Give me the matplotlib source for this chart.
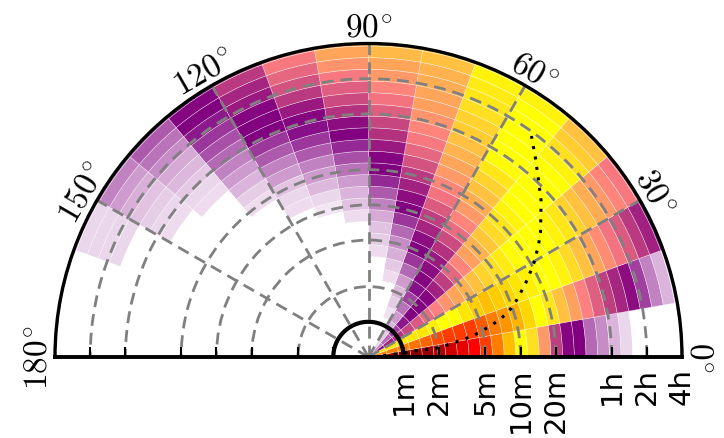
import numpy as np
import matplotlib
matplotlib.use("Agg")
import matplotlib.pyplot as plt
from matplotlib.colors import LinearSegmentedColormap, Normalize
from matplotlib.transforms import offset_copy

plt.rcParams['mathtext.fontset'] = 'cm'

# --- data -------------------------------------------------------------
# angular bins (degrees, lower edges) and one list of cell values per bin,
# ordered from the innermost duration ring outwards (28 rings)
dir_bins_deg = [0, 10, 20, 30, 40, 50, 60, 70, 80, 90, 100, 110, 120, 130, 140, 150, 160, 170]

dir_000 = [1.0, 1.0, 1.0, 1.0, 1.0, 0.97, 0.93, 0.88, 0.84, 0.8, 0.75, 0.7, 0.65, 0.6,
           0.55, 0.44, 0.3, 0.21, 0.2, 0.12, 0.09, 0.06, 0.035, 0, 0, 0, 0, 0]
dir_010 = [0.7, 0.7, 0.7, 0.7, 0.71, 0.72, 0.74, 0.75, 0.75, 0.75, 0.73, 0.7, 0.68, 0.66,
           0.63, 0.6, 0.56, 0.5, 0.45, 0.4, 0.35, 0.3, 0.26, 0.22, 0.15, 0.1, 0.06, 0.035]
dir_020 = [0.62, 0.62, 0.62, 0.62, 0.62, 0.62, 0.61, 0.6, 0.6, 0.62, 0.64, 0.65, 0.64, 0.63,
           0.62, 0.61, 0.6, 0.6, 0.58, 0.54, 0.5, 0.46, 0.42, 0.38, 0.34, 0.29, 0.25, 0.22]
dir_030 = [0.2, 0.22, 0.25, 0.28, 0.31, 0.34, 0.37, 0.4, 0.43, 0.46, 0.48, 0.5, 0.53, 0.55,
           0.57, 0.59, 0.6, 0.6, 0.6, 0.58, 0.56, 0.53, 0.5, 0.47, 0.44, 0.41, 0.39, 0.37]
dir_040 = [0.08, 0.1, 0.12, 0.15, 0.18, 0.2, 0.2, 0.21, 0.25, 0.3, 0.36, 0.41, 0.45, 0.48,
           0.51, 0.54, 0.56, 0.58, 0.6, 0.6, 0.6, 0.6, 0.6, 0.58, 0.55, 0.52, 0.5, 0.48]
dir_050 = [0.03, 0.035, 0.045, 0.06, 0.08, 0.11, 0.15, 0.19, 0.21, 0.22, 0.24, 0.28, 0.32, 0.37,
           0.41, 0.44, 0.47, 0.5, 0.53, 0.56, 0.59, 0.6, 0.6, 0.6, 0.6, 0.6, 0.58, 0.57]
dir_060 = [0, 0, 0, 0, 0.025, 0.04, 0.055, 0.08, 0.12, 0.16, 0.2, 0.22, 0.26, 0.3,
           0.34, 0.38, 0.41, 0.44, 0.46, 0.48, 0.5, 0.52, 0.53, 0.55, 0.56, 0.57, 0.58, 0.58]
dir_070 = [0, 0, 0, 0, 0, 0, 0, 0.03, 0.045, 0.065, 0.09, 0.12, 0.16, 0.2,
           0.22, 0.25, 0.29, 0.33, 0.36, 0.39, 0.41, 0.43, 0.45, 0.46, 0.47, 0.48, 0.5, 0.52]
dir_080 = [0, 0, 0, 0, 0, 0, 0, 0, 0, 0.03, 0.04, 0.05, 0.07, 0.1,
           0.13, 0.17, 0.2, 0.21, 0.24, 0.28, 0.31, 0.35, 0.38, 0.41, 0.44, 0.46, 0.49, 0.5]
dir_090 = [0, 0, 0, 0, 0, 0, 0, 0, 0, 0, 0, 0, 0.03, 0.05,
           0.06, 0.08, 0.11, 0.14, 0.17, 0.2, 0.22, 0.28, 0.32, 0.35, 0.39, 0.43, 0.46, 0.47]
dir_100 = [0, 0, 0, 0, 0, 0, 0, 0, 0, 0, 0, 0, 0, 0.02,
           0.035, 0.055, 0.08, 0.1, 0.13, 0.16, 0.19, 0.21, 0.24, 0.29, 0.33, 0.36, 0.39, 0.4]
dir_110 = [0, 0, 0, 0, 0, 0, 0, 0, 0, 0, 0, 0, 0, 0,
           0.03, 0.035, 0.05, 0.08, 0.1, 0.13, 0.16, 0.2, 0.2, 0.21, 0.24, 0.26, 0.29, 0.3]
dir_120 = [0, 0, 0, 0, 0, 0, 0, 0, 0, 0, 0, 0, 0, 0,
           0, 0, 0.03, 0.04, 0.06, 0.08, 0.1, 0.12, 0.14, 0.16, 0.18, 0.2, 0.21, 0.2]
dir_130 = [0, 0, 0, 0, 0, 0, 0, 0, 0, 0, 0, 0, 0, 0,
           0, 0, 0, 0, 0, 0.03, 0.035, 0.045, 0.055, 0.07, 0.09, 0.11, 0.13, 0.15]
dir_140 = [0, 0, 0, 0, 0, 0, 0, 0, 0, 0, 0, 0, 0, 0,
           0, 0, 0, 0, 0, 0, 0.03, 0.035, 0.04, 0.05, 0.065, 0.08, 0.1, 0.11]
dir_150 = [0, 0, 0, 0, 0, 0, 0, 0, 0, 0, 0, 0, 0, 0,
           0, 0, 0, 0, 0, 0, 0, 0, 0, 0.035, 0.035, 0.035, 0.035, 0.04]
dir_160 = [0] * 28
dir_170 = [0] * 28

# reference curve: direction (deg) against duration (minutes)
curve_deg = [5.0, 6.7, 7.6, 7.5, 6.9, 8.4, 9.6, 10.6, 11.8, 13.3, 14.8, 16.3, 18.4, 20.6,
             23.0, 25.2, 27.4, 29.6, 31.7, 33.8, 35.9, 38.2, 40.3, 42.2, 44.3, 46.3, 48.2,
             50.1, 52.0, 53.6]
curve_min = [0.67, 0.98, 1.22, 1.51, 1.84, 2.29, 2.81, 3.45, 4.25, 5.16, 6.33, 7.66, 9.38,
             11.07, 13.0, 15.3, 17.9, 21.2, 24.4, 28.3, 32.7, 37.4, 42.9, 49.1, 55.6, 63.4,
             72.4, 83.9, 97.2, 111.5]

# radial axis: duration ticks
tick_minutes = [1, 2, 5, 10, 20, 60, 120, 240]
tick_labels = ['1m', '2m', '5m', '10m', '20m', '1h', '2h', '4h']

# --- geometry -----------------------------------------------------------
T0 = 0.5  # minutes at the pole
def to_r(minutes):
    return np.log10(np.asarray(minutes, dtype=float) / T0)

r_max = to_r(240)
ring_edges = np.r_[0.0, 0.06 + 0.1 * np.arange(27), r_max]
n_rings = len(ring_edges) - 1

values = np.array([dir_000, dir_010, dir_020, dir_030, dir_040, dir_050, dir_060, dir_070,
                   dir_080, dir_090, dir_100, dir_110, dir_120, dir_130, dir_140, dir_150,
                   dir_160, dir_170])

cmap = LinearSegmentedColormap.from_list(
    'wpy', ['white', 'purple', '#ff8080', 'yellow', 'red', 'darkred'])
norm = Normalize(0, 1)

W, H = 724, 439
fig = plt.figure(figsize=(W / 100, H / 100), dpi=100)
# square box whose upper half holds the half disc (centre 368.5, 358; radius 313.5 px)
box = 627.0
cy = (44.5 + 358.0) / 2
ax = fig.add_axes([55 / W, (H - cy - box / 2) / H, box / W, box / H], projection='polar')
ax.set_thetamin(0)
ax.set_thetamax(180)

width = np.radians(10)
th = np.radians(np.repeat(dir_bins_deg, n_rings) + 5)
bottoms = np.tile(ring_edges[:-1], len(dir_bins_deg))
heights = np.tile(np.diff(ring_edges), len(dir_bins_deg))
colors = cmap(norm(values.ravel()))
ax.bar(th, heights, width=width, bottom=bottoms, color=colors,
       edgecolor=(1, 1, 1, 0.55), linewidth=0.4, align='center', zorder=1)

ax.set_ylim(0, r_max)

# one-minute ring and reference curve
circle_t = np.linspace(0, np.pi, 361)
ax.plot(circle_t, np.full_like(circle_t, to_r(1)), color='black', lw=3,
        zorder=6, solid_capstyle='butt')
ax.plot(np.radians(curve_deg), to_r(curve_min), color='black', lw=2.2,
        linestyle=(0, (1, 2.45)), zorder=5)

# angular ticks
ax.set_xticks(np.radians(np.arange(0, 181, 30)))
ax.set_xticklabels([r'$%d^{\!\circ}$' % d for d in range(0, 181, 30)], fontsize=24)
ax.tick_params(axis='x', pad=5, direction='in', length=7, width=1.5,
               labelrotation='auto')

# radial ticks on both straight edges; labels hang below the 0-degree edge
r_ticks = to_r(tick_minutes)
ax.set_yticks(r_ticks)
ax.yaxis.set_ticks_position('both')
ax.tick_params(axis='y', direction='in', length=7, width=1.5,
               labelleft=False, labelright=False)
label_tf = offset_copy(ax.transData, fig=fig, x=0, y=-10, units='dots')
for r, lab in zip(r_ticks, tick_labels):
    ax.text(0.0, r, lab, transform=label_tf, rotation=90, ha='center', va='top',
            fontsize=21, family='DejaVu Sans', clip_on=False)

ax.grid(True, color='0.5', lw=2, linestyle=(0, (4.3, 2.5)))

ax.spines['polar'].set_linewidth(2.4)
ax.spines['start'].set_linewidth(2.8)
ax.spines['end'].set_linewidth(2.8)

fig.savefig('out.png', dpi=100)
